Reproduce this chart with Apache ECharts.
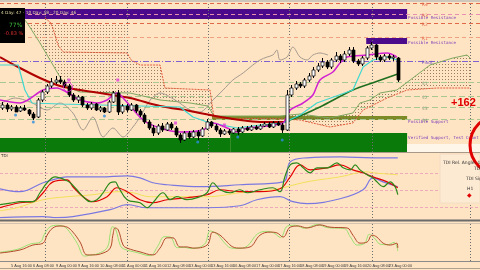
<!DOCTYPE html>
<html><head><meta charset="utf-8">
<script src="https://cdn.jsdelivr.net/npm/echarts/dist/echarts.min.js"></script>
<style>html,body{margin:0;padding:0;background:#FFE4C4;}#c{width:480px;height:270px;}</style>
</head><body><div id="c"></div>
<script>
// ---------- DATA ----------
const tickLabels = ['5 Aug 16:00','6 Aug 08:00','9 Aug 00:00','9 Aug 16:00','10 Aug 08:00','11 Aug 00:00','11 Aug 16:00','12 Aug 08:00','13 Aug 00:00','13 Aug 16:00','16 Aug 08:00','17 Aug 00:00','17 Aug 16:00','18 Aug 08:00','19 Aug 00:00','19 Aug 16:00','20 Aug 08:00','23 Aug 00:00'];
const tickBars = [2,7,12,17,22,27,32,37,42,47,52,57,62,67,72,77,82,87];
// candles: [open, close, low, high]
const candles = [
[44,47,42,50],[47,43,40,49],[43,45,41,47],[45,40,40,47],[41,44,40,46],[44,42,41,47],[42,38,36,43],[38,34,32,40],
[35,52,34,54],[52,60,50,62],[60,66,58,68],[66,70,64,74],[70,72,68,76],[72,70,68,76],[70,66,64,72],[66,57,55,68],
[57,52,50,59],[52,55,49,57],[55,47,45,56],[47,44,42,49],[44,48,42,50],[48,42,41,49],[42,44,40,46],[44,40,39,45],
[40,50,39,52],[50,59,49,61],[59,40,37,62],[40,46,38,48],[46,42,40,48],[42,47,41,49],[47,41,39,48],[41,37,35,43],
[37,30,28,39],[30,24,22,32],[24,19,16,27],[19,26,17,28],[26,22,20,29],[22,28,21,30],[28,24,22,30],[24,17,15,26],
[17,12,9,19],[12,19,11,21],[19,15,13,21],[15,20,14,22],[20,16,12,22],[16,23,15,25],[23,30,22,33],[30,26,24,31],
[26,22,20,28],[22,18,15,24],[18,21,17,23],[21,19,17,23],[19,23,18,24],[23,20,17,25],[20,24,19,26],[24,22,21,26],
[22,25,21,27],[25,23,22,27],[23,26,22,28],[26,28,25,30],[28,25,24,30],[25,29,24,31],[29,27,26,31],[27,22,19,29],
[22,57,21,62],[57,64,55,67],[64,68,62,71],[68,66,64,70],[66,72,64,74],[72,76,70,79],[76,82,74,85],[82,86,80,89],
[86,90,84,94],[90,85,83,92],[85,92,83,94],[92,96,90,100],[96,92,89,98],[92,98,90,101],[98,102,96,105],[102,91,89,105],
[91,88,86,93],[88,94,86,96],[94,104,92,106],[104,107,102,110],[107,95,92,108],[95,92,90,97],[92,96,90,98],[96,94,92,98],
[94,95,91,97],[94,72,70,95]];
const fractalDown = [[3,37],[7,30],[23,36],[44,10],[53,15],[63,12]];
const fractalUp = [[15,72],[26,72],[39,29],[50,27]];
const signalRing = [[14.8,65]];
const maFalling = [[-0.5,95],[4,84],[8.5,74],[13,66],[17.5,62],[22,59],[28.75,54],[35.5,46],[42.25,41],[47.9,36],[53.5,32],[58,30],[63.6,30]];
const maRising = [[63.6,30],[67,36],[71.5,45],[78.9,62],[83.9,70],[89,78]];
const tenkan = [[-0.5,52],[4,49],[9.2,62],[12.3,64],[14.8,59],[17.5,52],[21.3,49],[23.6,52],[25.8,59],[27.6,52],[31.7,32],[35.5,24],[40,20],[45.2,22],[47.4,29],[50.6,24],[52.8,20],[55.1,24],[58,25],[60.9,27],[63.2,29],[64.8,42],[67.7,49],[69.9,57],[71.5,72],[74.4,80],[76,89],[77.6,95],[82.1,97],[86.6,99],[88.8,95]];
const kijun = [[-0.5,87],[3.6,87],[5.1,62],[6.7,49],[13,48],[22,47],[31,46],[40,45],[42.9,35],[46.1,30],[52.8,24],[58,27],[63.2,29],[67,37],[70.8,49],[78.9,62],[81.2,85],[83.4,92],[86.6,95],[88.8,92]];
const chikou = [[-0.5,48],[2.9,54],[6.3,50],[10.1,42],[13,49],[15.9,39],[18.2,22],[20.4,35],[22.7,15],[24.9,24],[27.2,15],[29.4,25],[31,35],[33.3,52],[35.5,59],[38.9,52],[42.3,42],[44.5,40],[47.4,52],[49.7,62],[51.9,72],[54.2,79],[56.4,87],[58,92],[59.6,95],[60.9,97],[61.8,102],[62.5,92],[64.1,95],[65.4,105],[67,95],[68.6,92],[69.9,97],[71.5,99],[73.3,97]];
const cloudUpper = [[4,140],[5.6,129],[28.1,129],[28.75,92],[31,87],[35.5,87],[36.6,64],[46.75,62],[47.65,36],[62.5,36],[67,38],[73.75,34],[78.9,39],[80.5,49],[82.75,52],[85,59],[88.8,62],[96.25,87],[101.4,94],[104.6,97],[105.25,94]];
const cloudLower = [[4,138],[5.6,128],[8.5,109],[10.75,92],[13,75],[14.6,65],[17.5,60],[28.75,59],[35.5,52],[42.25,49],[46.3,46],[47.65,34],[62.5,33],[67,32],[73.75,25],[78.9,29],[81.2,42],[86.6,54],[91.1,62],[97.8,64],[105.25,64]];
const senkouA = [[4,138],[5.6,129],[8.5,109],[10.75,92],[13,75],[14.6,65],[17.5,60],[28.75,59],[35.5,52],[42.25,49],[46.3,46],[47.65,36],[62.5,36],[67,38],[73.75,34],[78.9,39],[80.5,49],[82.75,52],[85,59],[88.8,62],[96.25,87],[101.4,94],[104.6,97],[105.25,94]];
const senkouB = [[9.6,134],[10.75,130],[11.4,124],[12.55,107],[13.7,100],[28.1,99],[29,92],[31,87],[35.5,87],[36.6,64],[46.75,62],[47.65,34],[62.5,33],[67,32],[73.75,25],[78.9,29],[81.2,42],[86.6,54],[91.1,62],[97.8,64],[105.25,64]];
const levelValues = [149,138,129,115,91,70,56,45,33];
const levelNames = ['R4','R3','R2','R1','Pivot','S1','S2','S3','S4'];
const zoneFrom = [-0.5,81.9,47.2,-0.5,51.3];
const zoneTo = [91.1,91.1,91.1,51.3,91.1];
const zoneLow = [133,108,32,0,0];
const zoneHigh = [143,114,36,14,19];
const zoneNames = ['Possible Resistance','Possible Resistance','Possible Support','','Verified Support, Test Count'];
const sessionBreaks = [9.6,28.1,46.3,64.5,83.2,105.25];
const tdiLevels = [68,50,32];
const tdiPrice = [[-0.5,34.1],[2.4,36.2],[4,37.3],[6.9,37.3],[8.5,46.8],[10.1,57.4],[11.9,63.7],[13,62.6],[14.1,60.5],[15.3,57.4],[16.8,50],[18.2,42.6],[19.8,37.3],[21.3,39.4],[22.7,46.8],[24.3,57.4],[25.4,58.4],[26.1,53.2],[28.1,39.4],[31,36.2],[32.6,30.9],[33.9,36.2],[36.2,46.8],[37.8,39.4],[39.3,42.6],[41.6,39.4],[44.5,42.6],[46.1,46.8],[47.4,57.4],[49,50],[51.3,46.8],[53.5,50],[55.1,46.8],[58,50],[60.9,52.1],[62.5,47.9],[63.6,63.7],[64.8,76.4],[66.3,78.6],[67.7,73.3],[69.3,68],[70.8,73.3],[73.1,73.3],[75.3,78.6],[76.7,73.3],[78.3,71.1],[79.4,76.4],[80.5,71.1],[82.1,65.9],[83.4,62.6],[84.3,58.4],[85.7,53.2],[87.3,58.4],[88.4,53.2],[89,44.7]];
const tdiSignal = [[-0.5,30.9],[4,36.2],[6.9,37.3],[9.2,46.8],[11.4,58.4],[14.6,60.5],[15.9,53.2],[18.2,42.6],[20.4,37.3],[23.6,42.6],[25.8,52.1],[28.1,47.9],[31,39.4],[33.9,36.2],[37.1,39.4],[41.6,41.5],[46.1,44.7],[49,50],[53.5,47.9],[58,47.9],[62.5,51],[64.8,63.7],[67,76.4],[69.3,71.1],[73.1,73.3],[76,76.4],[78.9,71.1],[81.2,68],[83.4,63.7],[86.6,58.4],[89,52.1]];
const tdiBase = [[-0.5,27.7],[3.3,30.9],[9.2,39.4],[14.6,42.6],[20.4,44.7],[25.8,47.9],[29.4,46.8],[33.3,42.6],[40,42.6],[46.1,42.6],[53.5,46.8],[60.9,50],[68.6,58.4],[76,63.7],[82.1,69],[83.4,68],[89,65.9]];
const tdiUpper = [[-0.5,51],[4,47.9],[9.2,57.4],[13,62.6],[14.6,63.7],[22,63.7],[28.1,64.8],[31,62.6],[33.9,57.4],[37.1,55.3],[44.5,53.2],[53.5,55.3],[63.2,58.4],[64.8,79.6],[68.6,83.9],[76,84.9],[83.4,83.9],[89,83.9]];
const tdiLower = [[-0.5,20.3],[9.2,21.4],[12.3,20.3],[15.9,21.4],[24.3,28.8],[28.1,34.1],[32.6,30.9],[37.1,30.9],[46.1,30.9],[53.5,33],[57.3,39.4],[62.5,42.6],[65.4,37.3],[68.6,35.2],[76,40.4],[81.2,50],[83.4,62.6],[85.7,58.4],[89,53.2]];
const oscSlow = [[-0.5,21],[4,29],[6.9,42],[9.2,47],[10.1,68],[11.4,87],[13,92],[14.6,89],[15.9,76],[17.5,50],[19.1,16],[20.4,16],[22.7,21],[24.3,34],[24.9,68],[25.4,87],[26.1,82],[27.2,42],[28.1,34],[31,24],[33.9,16],[35.5,34],[37.1,61],[38.4,61],[40,37],[41.6,37],[42.9,34],[46.1,42],[47.4,76],[49,68],[50.6,50],[51.9,37],[53.5,34],[55.75,37],[58,68],[60.25,76],[61.8,74],[63.2,63],[64.8,89],[66.6,92],[68.6,87],[71.5,95],[73.75,89],[77.6,87],[78.9,68],[80.5,47],[82.1,50],[83.2,68],[84.3,63],[85.7,47],[87.3,42],[88.8,47],[89,34]];
const oscFast = [[-0.5,23],[3.5,31],[6.4,45],[8.6,50],[9.5,71],[10.8,90],[12.4,94],[14,90],[15.3,74],[16.9,46],[18.5,13],[19.8,15],[22.1,22],[23.7,37],[24.3,72],[24.8,90],[25.5,84],[26.6,40],[27.5,31],[30.4,22],[33.3,14],[34.9,37],[36.5,64],[37.8,63],[39.4,35],[41,36],[42.3,33],[45.5,44],[46.8,79],[48.4,70],[50,48],[51.3,35],[52.9,33],[55.1,39],[57.4,71],[59.6,78],[61.2,73],[62.6,62],[64.2,92],[66,94],[68,86],[70.9,96],[73.1,88],[77,85],[78.3,64],[79.9,42],[81.5,46],[82.6,70],[83.7,61],[85.1,44],[86.7,43],[88.2,49],[89,26]];

// ---------- STYLES ----------
const levelStyles = [
 {c:'#e06848',d:[4,3]},{c:'#e890b0',d:[4,3]},{c:'#e06848',d:[4,3]},{c:'#f0a080',d:[4,3]},{c:'#8060d0',d:[6,2,1,2]},
 {c:'#a8c890',d:[6,3]},{c:'#a8c890',d:[6,3]},{c:'#a8c890',d:[6,3]},{c:'#a8c890',d:[6,3]}];
const levelLabelColors = ['#e06848','#e06848','#e06848','#e06848','#7050c0','#8a9a7a','#8a9a7a','#8a9a7a','#8a9a7a'];
const zoneColors = ['#4b0a8c','#4b0a8c','#7d8a28','#0a7a0a','#0a7a0a'];
const zoneLabelEdge = ['low','low','low','low','high'];
const zoneLabelDy = [-1.5,-1,1.5,0,5];
const X0 = -0.5, X1 = 107.5;

const hatch = (function(){const c=document.createElement('canvas');c.width=3;c.height=3;const g=c.getContext('2d');g.fillStyle='rgba(125,90,60,0.75)';g.fillRect(1,1,1,1);return c;})();

function polySeries(upper, lower, fill, z){
  return {type:'custom', xAxisIndex:0, yAxisIndex:0, z:z, silent:true, data:[[0,0]],
    renderItem:(p,api)=>{
      const pts = upper.map(d=>api.coord(d)).concat(lower.slice().reverse().map(d=>api.coord(d)));
      return {type:'polygon', shape:{points:pts}, style:{fill:fill}};
    }};
}
function lineS(data, color, width, xi, z, smooth, dash){
  return {type:'line', xAxisIndex:xi, yAxisIndex:xi, data:data, showSymbol:false, silent:true, z:z,
    smooth:smooth||0, lineStyle:{color:color, width:width, type: dash||'solid'}};
}
function breaksSeries(xi, lo, hi){
  return {type:'custom', xAxisIndex:xi, yAxisIndex:xi, z:1, silent:true, data:sessionBreaks.map(b=>[b,lo]),
    renderItem:(p,api)=>{const a=api.coord([api.value(0),lo]), b=api.coord([api.value(0),hi]);
      return {type:'line', shape:{x1:Math.round(a[0])+0.5,y1:a[1],x2:Math.round(a[0])+0.5,y2:b[1]}, style:{stroke:'#6e6e6e',lineWidth:1,lineDash:[1,2]}};}};
}

const series = [
  {type:'custom', xAxisIndex:0, yAxisIndex:0, z:1, silent:true,
   data: zoneFrom.map((f,i)=>[f, zoneLow[i], zoneTo[i], zoneHigh[i], i]),
   renderItem:(p,api)=>{const i=api.value(4); const a=api.coord([api.value(0),api.value(3)]), b=api.coord([api.value(2),api.value(1)]);
     return {type:'rect', shape:{x:a[0],y:a[1],width:b[0]-a[0],height:b[1]-a[1]}, style:{fill:zoneColors[i]}};}},
  polySeries(cloudUpper, cloudLower, {image:hatch, repeat:'repeat'}, 1),
  breaksSeries(0, 0, 152),
  {type:'custom', xAxisIndex:0, yAxisIndex:0, z:2, silent:true, data: levelValues.map((v,i)=>[i,v]),
   renderItem:(p,api)=>{const i=api.value(0), v=api.value(1); const a=api.coord([X0,v]), b=api.coord([X1,v]); const s=levelStyles[i];
     const y=Math.round(a[1])+0.5;
     return {type:'line', shape:{x1:a[0],y1:y,x2:b[0],y2:y}, style:{stroke:s.c,lineWidth:1,lineDash:s.d}};}},
  {type:'custom', xAxisIndex:0, yAxisIndex:0, z:6, silent:true, data: levelValues.map((v,i)=>[i,v]),
   renderItem:(p,api)=>{const i=api.value(0), v=api.value(1); const a=api.coord([94.4,v]);
     return {type:'text', x:a[0], y:Math.max(a[1]+2,4), style:{text:levelNames[i], fill:levelLabelColors[i], font:'4.5px "DejaVu Sans"', textVerticalAlign:'middle'}};}},
  {type:'custom', xAxisIndex:0, yAxisIndex:0, z:6, silent:true, data: zoneFrom.map((f,i)=>[zoneTo[i], zoneLow[i], zoneHigh[i], i]),
   renderItem:(p,api)=>{const i=api.value(3); if(!zoneNames[i]) return null;
     const a=api.coord([api.value(0), zoneLabelEdge[i]==='low'?api.value(1):api.value(2)]);
     return {type:'text', x:a[0]+1, y:a[1]+zoneLabelDy[i], style:{text:zoneNames[i], fill:'#7a3ab8', font:'4.2px "DejaVu Sans Mono"', textVerticalAlign:'middle'}};}},
  lineS(senkouA, '#7fa860', 1, 0, 3),
  lineS(senkouB, '#e05a3a', 1, 0, 3, 0, [2,1]),
  lineS(chikou, '#a49a8e', 1, 0, 3, 0.3),
  lineS(maFalling, '#b00000', 2, 0, 4, 0.3),
  lineS(maRising, '#1e6e1e', 1.5, 0, 4, 0.3),
  lineS(kijun, '#40d8d0', 1.2, 0, 4),
  lineS(tenkan, '#d020d0', 1.5, 0, 4, 0.3),
  {type:'custom', xAxisIndex:0, yAxisIndex:0, z:5, silent:true,
   data: candles.map((c,i)=>[i,c[0],c[1],c[2],c[3]]),
   renderItem:(p,api)=>{const i=api.value(0),o=api.value(1),c=api.value(2),l=api.value(3),h=api.value(4);
     const pO=api.coord([i,o]), pC=api.coord([i,c]), pL=api.coord([i,l]), pH=api.coord([i,h]);
     const x=Math.round(pO[0])+0.5, w=3; const top=Math.min(pO[1],pC[1]), bot=Math.max(pO[1],pC[1]);
     return {type:'group', children:[
       {type:'line', shape:{x1:x,y1:pH[1],x2:x,y2:pL[1]}, style:{stroke:'#000',lineWidth:1}},
       {type:'rect', shape:{x:x-w/2,y:top,width:w,height:Math.max(bot-top,1)}, style:{fill:c>=o?'#ffffff':'#000000',stroke:'#000',lineWidth:0.7}}]};}},
  {type:'scatter', xAxisIndex:0, yAxisIndex:0, z:6, silent:true, data:fractalDown, symbol:'circle', symbolSize:3, itemStyle:{color:'#2a8ee0'}},
  {type:'scatter', xAxisIndex:0, yAxisIndex:0, z:6, silent:true, data:fractalUp, symbol:'rect', symbolSize:3, itemStyle:{color:'#e040d8'}},
  {type:'scatter', xAxisIndex:0, yAxisIndex:0, z:6, silent:true, data:signalRing, symbol:'circle', symbolSize:9, itemStyle:{color:'transparent', borderColor:'#e020e0', borderWidth:1}},
  breaksSeries(1, 20, 89),
  {type:'custom', xAxisIndex:1, yAxisIndex:1, z:2, silent:true, data: tdiLevels.map(v=>[0,v]),
   renderItem:(p,api)=>{const a=api.coord([X0,api.value(1)]), b=api.coord([X1,api.value(1)]); const y=Math.round(a[1])+0.5;
     return {type:'line', shape:{x1:a[0],y1:y,x2:b[0],y2:y}, style:{stroke:'#eeaabb',lineWidth:1,lineDash:[3,2]}};}},
  lineS(tdiUpper, '#7a78e0', 1.2, 1, 3, 0.4),
  lineS(tdiLower, '#7a78e0', 1.2, 1, 3, 0.4),
  lineS(tdiBase, '#f2e05a', 1, 1, 3, 0.4),
  lineS(tdiSignal, '#e00000', 1.2, 1, 4, 0.4),
  lineS(tdiPrice, '#2a8a1a', 1.2, 1, 4, 0.4),
  breaksSeries(2, 0, 100),
  lineS(oscFast, '#98e070', 1, 2, 3, 0.4),
  lineS(oscSlow, '#b04a2a', 1, 2, 4, 0.4),
  // time labels
  {type:'custom', xAxisIndex:2, yAxisIndex:2, z:6, silent:true, data: tickBars.map((b,k)=>[b,0,k]),
   renderItem:(p,api)=>{const a=api.coord([api.value(0),0]);
     return {type:'text', x:Math.round(a[0]), y:a[1]+4.5, style:{text:tickLabels[api.value(2)], fill:'#3a3a3a', font:'3.9px "Liberation Sans"', textVerticalAlign:'middle'}};}}
];

const chart = echarts.init(document.getElementById('c'), null, {renderer:'canvas', devicePixelRatio:1});
chart.setOption({
  animation:false, backgroundColor:'#FFE4C4',
  grid:[{left:0,right:0,top:0,height:152},{left:0,right:0,top:153,height:65},{left:0,right:0,top:223,height:38}],
  xAxis:[
    {type:'value',gridIndex:0,min:X0,max:X1,show:false},
    {type:'value',gridIndex:1,min:X0,max:X1,show:false},
    {type:'value',gridIndex:2,min:X0,max:X1,show:true,axisLine:{show:true,onZero:false,lineStyle:{color:'#8a8a8a'}},axisTick:{show:false},axisLabel:{show:false},splitLine:{show:false}}
  ],
  yAxis:[
    {type:'value',gridIndex:0,min:0,max:152,show:false},
    {type:'value',gridIndex:1,min:20,max:89,show:false},
    {type:'value',gridIndex:2,min:0,max:100,show:false}
  ],
  series: series,
  graphic:[
    {type:'rect', z:100, shape:{x:0,y:0,width:480,height:2}, style:{fill:'#cfc6bc'}},
    {type:'rect', z:100, shape:{x:0,y:152,width:480,height:1}, style:{fill:'#a89888'}},
    {type:'rect', z:100, shape:{x:407,y:144,width:73,height:8}, style:{fill:'#fff6ea'}},
    {type:'rect', z:100, shape:{x:0,y:219.5,width:480,height:2}, style:{fill:'#6a6a6a'}},
    {type:'rect', z:100, shape:{x:0,y:223,width:480,height:0.8}, style:{fill:'#c8b8a8'}},
    {type:'rect', z:100, shape:{x:0,y:268,width:480,height:1}, style:{fill:'#b0a090'}},
    {type:'rect', z:100, shape:{x:0,y:8,width:25,height:35}, style:{fill:'#000'}},
    {type:'text', z:101, left:1, top:11, style:{text:'4 Day: 47 · 10 Day: 58 · 20 Day: 46', fill:'#e0d8a0', font:'4.3px "DejaVu Sans"'}},
    {type:'text', z:101, left:9, top:22, style:{text:'77%', fill:'#40c040', font:'6px "DejaVu Sans"'}},
    {type:'text', z:101, left:4, top:31, style:{text:'-0.83 %', fill:'#e03030', font:'5px "DejaVu Sans"'}},
    {type:'text', z:101, left:451, top:97, style:{text:'+162', fill:'#e00000', font:'bold 11px "Liberation Sans"'}},
    {type:'circle', z:101, shape:{cx:500,cy:145,r:30}, style:{fill:'none', stroke:'#e00000', lineWidth:3}},
    {type:'rect', z:100, shape:{x:440,y:154,width:40,height:49}, style:{fill:'#fdead2', stroke:'#f2dcc4', lineWidth:1}},
    {type:'text', z:101, left:443, top:160, style:{text:'TDI Rel. Angle: 1.22', fill:'#333', font:'4.5px "DejaVu Sans"'}},
    {type:'text', z:101, left:474, top:166, style:{text:'TDI', fill:'#333', font:'4.5px "DejaVu Sans"'}},
    {type:'text', z:101, left:466, top:176, style:{text:'TDI Sig', fill:'#333', font:'4.5px "DejaVu Sans"'}},
    {type:'text', z:101, left:467, top:186, style:{text:'H1', fill:'#333', font:'4.5px "DejaVu Sans"'}},
    {type:'text', z:101, left:467, top:192, style:{text:'◆', fill:'#e00000', font:'6px "DejaVu Sans"'}},
    {type:'text', z:101, left:1, top:154, style:{text:'TDI', fill:'#333', font:'4px "DejaVu Sans"'}}
  ]
});
</script></body></html>
